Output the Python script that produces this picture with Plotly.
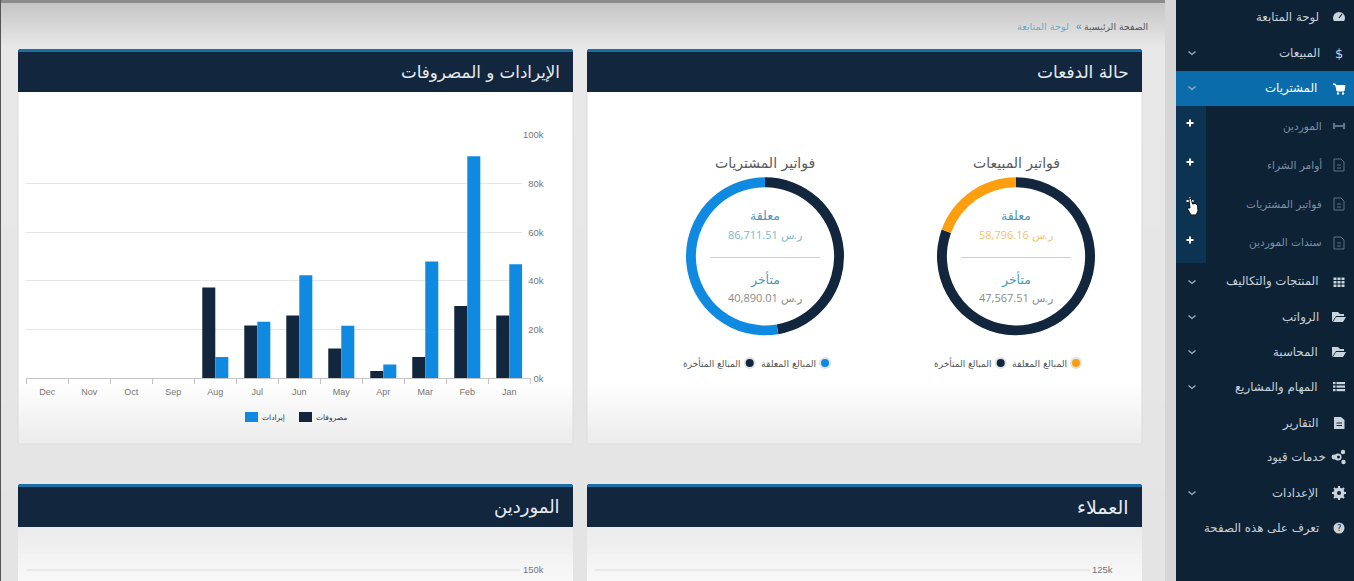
import re
import plotly.graph_objects as go

W, H = 1354, 581

# ---- data ----
months = ["Dec", "Nov", "Oct", "Sep", "Aug", "Jul", "Jun", "May", "Apr", "Mar", "Feb", "Jan"]
expenses = [None, None, None, None, 37300, 21750, 25850, 12300, 3000, 8750, 29700, 25850]
revenues = [None, None, None, None, 8750, 23250, 42300, 21600, 5750, 48000, 91200, 46800]
y_ticks = [0, 20000, 40000, 60000, 80000, 100000]
y_labels = ["0k", "20k", "40k", "60k", "80k", "100k"]
donut_labels = ["المبالغ المتأخرة", "المبالغ المعلقة"]
sales_arc = [80.5, 19.5]
purchase_arc = [47.3, 52.7]
menu = [
    (18, "لوحة المتابعة", 1319, False), (53, "المبيعات", 1320, True), (88, "المشتريات", 1317, True),
    (282, "المنتجات والتكاليف", 1318, True), (317, "الرواتب", 1319, True), (352, "المحاسبة", 1318, True),
    (387, "المهام والمشاريع", 1318, True), (423, "التقارير", 1318, False), (457, "خدمات قيود", 1326, False),
    (493, "الإعدادات", 1318, True), (528, "تعرف على هذه الصفحة", 1319, False),
]
submenu = [(126, "الموردين", 1322), (165, "أوامر الشراء", 1322), (204, "فواتير المشتريات", 1322), (243, "سندات الموردين", 1322)]

NAVY, BLUE, ORANGE = "#12263e", "#0f8ae0", "#ff9f0f"
SIDE = "#0e2236"
AR = "DejaVu Sans"
LAT = "Liberation Sans"

def px(x): return x / W
def py(y): return 1 - y / H

shapes, notes = [], []

def rect(x0, y0, x1, y1, fill, line=None, layer="below"):
    shapes.append(dict(type="rect", xref="paper", yref="paper", x0=px(x0), x1=px(x1), y0=py(y0), y1=py(y1),
                       fillcolor=fill, line=dict(width=1 if line else 0, color=line or fill), layer=layer))

def mix(a, b, t):
    ca = [int(a[i:i + 2], 16) for i in (1, 3, 5)]
    cb = [int(b[i:i + 2], 16) for i in (1, 3, 5)]
    return "#%02x%02x%02x" % tuple(round(p + (q - p) * t) for p, q in zip(ca, cb))

def vgrad(x0, x1, y0, y1, c0, c1, n, layer="below"):
    step = (y1 - y0) / n
    for i in range(n):
        rect(x0, y0 + i * step, x1, min(y1, y0 + (i + 1) * step + 1), mix(c0, c1, i / max(n - 1, 1)), layer=layer)

def P(d):
    toks = re.findall(r"[MLQCZ]|-?\d+\.?\d*", d)
    out, i = [], 0
    while i < len(toks):
        if toks[i].isalpha():
            out.append(toks[i]); i += 1
        else:
            out.append(f"{px(float(toks[i])):.5f},{py(float(toks[i + 1])):.5f}"); i += 2
    return " ".join(out)

def path(d, fill=None, line=None, width=1, layer="above"):
    shapes.append(dict(type="path", xref="paper", yref="paper", path=P(d), layer=layer,
                       fillcolor=fill or "rgba(0,0,0,0)", line=dict(color=line or "rgba(0,0,0,0)", width=width if line else 0)))

def circle(cx, cy, r, fill, layer="above"):
    shapes.append(dict(type="circle", xref="paper", yref="paper", x0=px(cx - r), x1=px(cx + r), y0=py(cy + r), y1=py(cy - r),
                       fillcolor=fill, line=dict(width=0), layer=layer))

def hline(x0, x1, y, color, width=1):
    shapes.append(dict(type="line", xref="paper", yref="paper", x0=px(x0), x1=px(x1), y0=py(y), y1=py(y),
                       line=dict(color=color, width=width), layer="below"))

def text(x, y, s, size, color, anchor="right", font=AR):
    notes.append(dict(xref="paper", yref="paper", x=px(x), y=py(y), text=s, showarrow=False, xanchor=anchor, yanchor="middle",
                      font=dict(family=font, size=size, color=color), borderpad=0, borderwidth=0))

# ---- page ----
rect(0, 0, 1176, 3, "#8c8c8c")
vgrad(0, 1176, 3, 48, "#c6c6c6", "#e8e8e8", 18)
vgrad(0, 1176, 48, 581, "#e8e8e8", "#e4e4e4", 6)
rect(0, 0, 1, 581, "#555555")

# ---- panels ----
def panel(x0, x1, y0, y1, title, head_bottom, size=17):
    if y1 < 581:
        rect(x0, head_bottom, x1, 380, "#ffffff")
        vgrad(x0, x1, 380, y1, "#ffffff", "#ececec", 24)
        path(f"M {x0} {head_bottom} L {x0} {y1} L {x1} {y1} L {x1} {head_bottom}", line="#dcdcdc", layer="below")
    else:
        vgrad(x0, x1, head_bottom, y1, "#ececec", "#f8f8f8", 12)
    path(f"M {x0} {head_bottom} L {x0} {y0 + 3} Q {x0} {y0} {x0 + 3} {y0} L {x1 - 3} {y0} Q {x1} {y0} {x1} {y0 + 3} L {x1} {head_bottom} Z",
         fill=NAVY, layer="below")
    path(f"M {x0} {y0 + 3} Q {x0} {y0} {x0 + 3} {y0} L {x1 - 3} {y0} Q {x1} {y0} {x1} {y0 + 3} Z", fill="#1c6fa6", layer="below")
    text(x1 - 13, (y0 + head_bottom) / 2 + 1.5, title, size, "#e6ebef")

panel(18, 573, 49, 444, "الإيرادات و المصروفات", 92, 16.7)
panel(587, 1142, 49, 444, "حالة الدفعات", 92)
panel(18, 573, 484, 581, "الموردين", 527, 18)
panel(587, 1142, 484, 581, "العملاء", 527, 19)

hline(27, 520, 570, "#dcdcdc")
hline(595, 1090, 570, "#dcdcdc")
text(544, 569, "150k", 9.5, "#777777", font=LAT)
text(1113, 569, "125k", 9.5, "#777777", font=LAT)

# breadcrumb
text(1148, 27, "الصفحة الرئيسية", 9.3, "#555555")
text(1082, 27, "«", 10, "#3c8fc0", font=LAT)
text(1069, 27, "لوحة المتابعة", 9.7, "#6aa9cb")

# end of the x axis past the last bar
hline(522, 531, 378.4, "#c4c4c4")
shapes.append(dict(type="line", xref="paper", yref="paper", x0=px(530.3), x1=px(530.3), y0=py(378.4), y1=py(384),
                   line=dict(color="#c4c4c4", width=1), layer="below"))

# ---- donut centre text ----
def donut_text(cx, title, pending, late, amount_color):
    text(cx, 163, title, 14, "#5a5a5a", anchor="center")
    text(cx, 215.5, "معلقة", 12.5, "#4f97ba", anchor="center")
    text(cx, 234.5, "ر.س " + pending, 11, amount_color, anchor="center", font="Open Sans")
    hline(cx - 55, cx + 55, 257.5, "#cfcfcf")
    text(cx, 279, "متأخر", 12.5, "#4f97ba", anchor="center")
    text(cx, 297.5, "ر.س " + late, 11, "#8a8a8a", anchor="center", font="Open Sans")

donut_text(1016, "فواتير المبيعات", "58,796.16", "47,567.51", "#f1c36a")
donut_text(765, "فواتير المشتريات", "86,711.51", "40,890.01", "#79b9cf")

def donut_legend(cx, color):
    circle(cx + 60, 363, 6, "#dfe3e6")
    circle(cx + 60, 363, 4, color)
    text(cx + 50.5, 363, donut_labels[1], 9.3, "#555555")
    circle(cx - 15.3, 363, 6, "#dfe3e6")
    circle(cx - 15.3, 363, 4, NAVY)
    text(cx - 25, 363, donut_labels[0], 9, "#555555")

donut_legend(1016, ORANGE)
donut_legend(765, BLUE)

# ---- bar legend ----
rect(245, 412, 258, 422, BLUE)
text(262, 417.5, "إيرادات", 7.5, "#333333", anchor="left")
rect(299, 412, 312, 422, NAVY)
text(316, 417.5, "مصروفات", 7.5, "#333333", anchor="left")

# ---- sidebar ----
rect(1165, 0, 1176, 581, "#d6d6d6")
rect(1176, 0, 1354, 581, SIDE)
rect(1176, 106, 1206, 263, "#0c3452")
rect(1176, 71, 1354, 106, "#0a6cab")

for y, s, x, chev in menu:
    col = "#ffffff" if y == 88 else "#c6d0d8"
    text(x, y, s, 11.8, col)
    if chev:
        path(f"M 1188.5 {y - 1.5} L 1192 {y + 1.5} L 1195.5 {y - 1.5}", line="#9fb2c2", width=1.3)
for y, s, x in submenu:
    text(x, y, s, 10.6, "#7b90a4")
for y in (123, 162, 201, 240):
    path(f"M 1186.5 {y} L 1193.5 {y} M 1190 {y - 3.5} L 1190 {y + 3.5}", line="#ffffff", width=2)

# icons
IC = "#c9d3db"
DIM = "#5d7286"
# gauge
circle(1339, 18, 6, IC)
path("M 1339 18 L 1342 14", line=NAVY, width=1.2)
rect(1334, 21, 1344, 25, SIDE, layer="above")
text(1339, 53, "$", 13, IC, anchor="center", font=AR)
# cart
path("M 1333 84 L 1335.5 84 L 1337 91 L 1344 91 L 1345 85.5 L 1336 85.5 Z", fill="#ffffff", line="#ffffff")
circle(1338, 93.5, 1.2, "#ffffff")
circle(1343, 93.5, 1.2, "#ffffff")
# suppliers
path("M 1334 123 L 1334 129 M 1344 123 L 1344 129 M 1334 126 L 1344 126", line=DIM, width=2.2)
# outlined file icons
for y in (165, 204, 243):
    path(f"M 1334 {y - 6} L 1341 {y - 6} L 1344 {y - 3} L 1344 {y + 6} L 1334 {y + 6} Z", line=DIM, width=1)
    path(f"M 1337 {y} L 1341 {y} M 1337 {y + 3} L 1341 {y + 3}", line=DIM, width=1)
# grid
for gx in (1333.5, 1337.5, 1341.5):
    for gy in (277.5, 281, 284.5):
        rect(gx, gy, gx + 3, gy + 2.5, IC, layer="above")
# folders
for y in (317, 352):
    path(f"M 1332 {y + 5} L 1332 {y - 5} L 1338 {y - 5} L 1340 {y - 3} L 1344 {y - 3} L 1344 {y - 1} L 1336 {y - 1} Z", fill=IC)
    path(f"M 1333 {y + 5} L 1336 {y} L 1346 {y} L 1343 {y + 5} Z", fill=IC)
# list
for ly in (383, 386.5, 390):
    rect(1333, ly - 1, 1335.5, ly + 1.2, IC, layer="above")
    rect(1336.5, ly - 1, 1345, ly + 1.2, IC, layer="above")
# report
path("M 1334 417 L 1341 417 L 1344.5 420 L 1344.5 429 L 1334 429 Z", fill=IC)
path("M 1336.5 423 L 1342 423 M 1336.5 425.5 L 1342 425.5", line=SIDE, width=1)
# qoyod cluster
for cx, cy, r in ((1338, 457, 3.6), (1343, 452, 2.2), (1343.5, 462, 2.2), (1334, 457, 2.4)):
    circle(cx, cy, r, IC)
circle(1338.5, 457, 1.5, SIDE)
# gear
circle(1339, 493, 5.5, IC)
for d in ("M 1339 486 L 1339 500", "M 1332 493 L 1346 493", "M 1334 488 L 1344 498", "M 1344 488 L 1334 498"):
    path(d, line=IC, width=2)
circle(1339, 493, 2, SIDE)
# help
circle(1339, 528, 5.5, IC)
text(1339, 528, "?", 8.5, SIDE, anchor="center", font=AR)
# pointer
path("M 1189 199 L 1191 198 L 1192.5 204 L 1195 203.5 L 1197.5 205 L 1198 211 L 1196 215 L 1191 215 L 1187 208 L 1190 208 Z",
     fill="#ffffff", line="#111111", width=1)

# ---- charts ----
def pie(cx, cy, r, vals, second):
    return go.Pie(values=vals, labels=donut_labels, sort=False, direction="clockwise", rotation=0, hole=0.875,
                  marker=dict(colors=[NAVY, second], line=dict(width=0)), textinfo="none", showlegend=False,
                  domain=dict(x=[px(cx - r), px(cx + r)], y=[py(cy + r), py(cy - r)]))

fig = go.Figure()
fig.add_bar(x=months, y=expenses, name="مصروفات", marker=dict(color=NAVY, line=dict(width=0)), showlegend=False)
fig.add_bar(x=months, y=revenues, name="إيرادات", marker=dict(color=BLUE, line=dict(width=0)), showlegend=False)
fig.add_trace(pie(1016, 256.3, 79, sales_arc, ORANGE))
fig.add_trace(pie(765, 256.3, 79, purchase_arc, BLUE))

fig.update_layout(
    width=W, height=H, autosize=False, margin=dict(l=0, r=0, t=0, b=0, pad=0),
    paper_bgcolor="#ececec", plot_bgcolor="rgba(0,0,0,0)", showlegend=False,
    barmode="group", bargap=0.38, bargroupgap=0,
    shapes=shapes, annotations=notes,
    xaxis=dict(domain=[px(26.3), px(522.3)], range=[-0.5, 11.31], type="category", categoryorder="array", categoryarray=months,
               tickson="boundaries", ticks="outside", ticklen=5, tickcolor="#c4c4c4", showline=True, linecolor="#c4c4c4",
               ticklabelstandoff=5,
               showgrid=False, zeroline=False, automargin=False, tickfont=dict(family=LAT, size=9, color="#777777"), fixedrange=True),
    yaxis=dict(domain=[py(378.4), py(134.7)], range=[0, 100000], anchor="free", position=px(543.5), side="left",
               tickmode="array", tickvals=y_ticks, ticktext=y_labels, ticks="", showline=False, zeroline=False, automargin=False,
               gridcolor="#e6e6e6", gridwidth=1, tickfont=dict(family=LAT, size=9.5, color="#777777"), fixedrange=True),
    hovermode=False, font=dict(family=AR),
)

fig.write_html("out.html", config=dict(displayModeBar=False),
               post_script="document.body.style.margin='0';document.body.style.overflow='hidden';")
